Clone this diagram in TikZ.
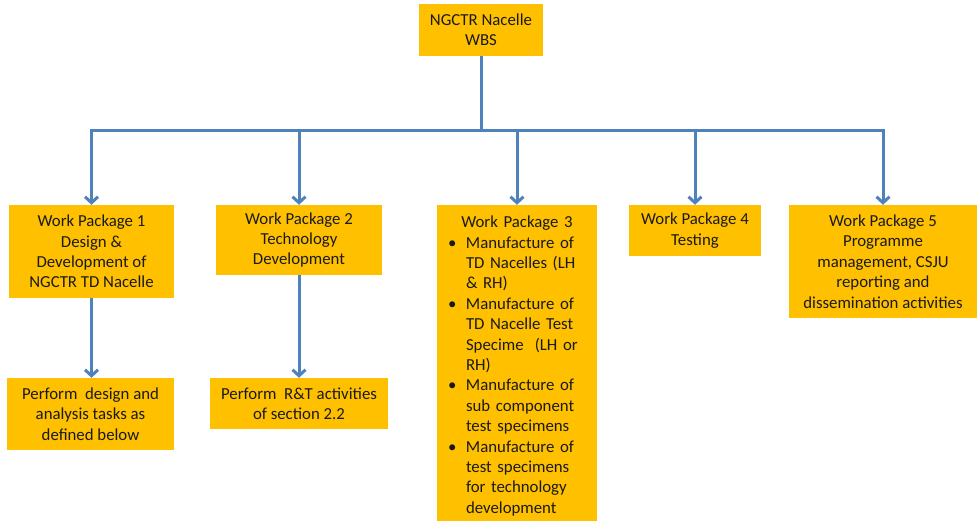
\documentclass[tikz,border=0pt]{standalone}
\usepackage{fontspec}
\setmainfont{Carlito}
\usetikzlibrary{arrows.meta}
\definecolor{boxfill}{HTML}{FFC000}
\definecolor{linkblue}{HTML}{4F81BD}
\definecolor{txt}{HTML}{1A1A1A}
\newcommand{\wbsitem}{\leavevmode\llap{\makebox[18pt][l]{•}}}
\begin{document}
\begin{tikzpicture}[x=1pt,y=1pt,
  wbsbox/.style={fill=boxfill, inner sep=0pt, align=center, text=txt,
    font=\fontsize{16.8}{20.4}\selectfont},
  wbstext/.style={inner sep=0pt, text=txt, font=\fontsize{16.8}{20.4}\selectfont},
  link/.style={draw=linkblue, line width=3pt},
  arr/.style={link, -{Straight Barb[length=6pt,width=13pt,line width=3pt]}}]
\useasboundingbox (0,0) rectangle (977,521);

% boxes
\node[wbsbox, minimum width=124pt, minimum height=52pt] (top) at (481,491)
  {NGCTR Nacelle\\WBS};
\node[wbsbox, minimum width=165pt, minimum height=93pt] (wp1) at (91.5,269.5)
  {Work Package 1\\Design \&\\Development of\\NGCTR TD Nacelle};
\node[wbsbox, minimum width=166pt, minimum height=70pt] (wp2) at (299,281)
  {Work Package 2\\Technology\\Development};
\node[wbsbox, minimum width=160pt, minimum height=316pt] (wp3) at (517,158) {};
\node[wbsbox, minimum width=132pt, minimum height=51pt] (wp4) at (695,290.5)
  {Work Package 4\\Testing};
\node[wbsbox, minimum width=189pt, minimum height=113pt] (wp5) at (883,259.5)
  {Work Package 5\\Programme\\management, CSJU\\reporting and\\dissemination activities};
\node[wbsbox, minimum width=167pt, minimum height=72pt] (c1) at (90.5,107)
  {Perform\ \ design and\\analysis tasks as\\defined below};
\node[wbsbox, minimum width=178pt, minimum height=51pt] (c2) at (299,117.5)
  {Perform\ \ R\&T activities\\of section 2.2};

% WP3 text
\node[wbstext, text width=160pt, anchor=north] (wp3text) at ([yshift=-11pt]wp3.north)
  {{\centering Work Package 3\par}
   \raggedright\leftskip=29pt\parindent=0pt
   \wbsitem Manufacture of\newline TD Nacelles (LH\newline \& RH)\par
   \wbsitem Manufacture of\newline TD Nacelle Test\newline Specime\ \ (LH or\newline RH)\par
   \wbsitem Manufacture of\newline sub component\newline test specimens\par
   \wbsitem Manufacture of\newline test specimens\newline for technology\newline development\par};

% connectors
\coordinate (bar) at (481,390);
\draw[link] (top.south) -- (top.south |- bar);
\draw[link, line cap=rect] (wp1.north |- bar) -- (wp5.north |- bar);
\foreach \n in {wp1,wp2,wp3,wp4,wp5}
  \draw[arr] (\n.north |- bar) -- (\n.north);
\draw[arr] (wp1.south) -- (wp1.south |- c1.north);
\draw[arr] (wp2.south) -- (c2.north);
\end{tikzpicture}
\end{document}
